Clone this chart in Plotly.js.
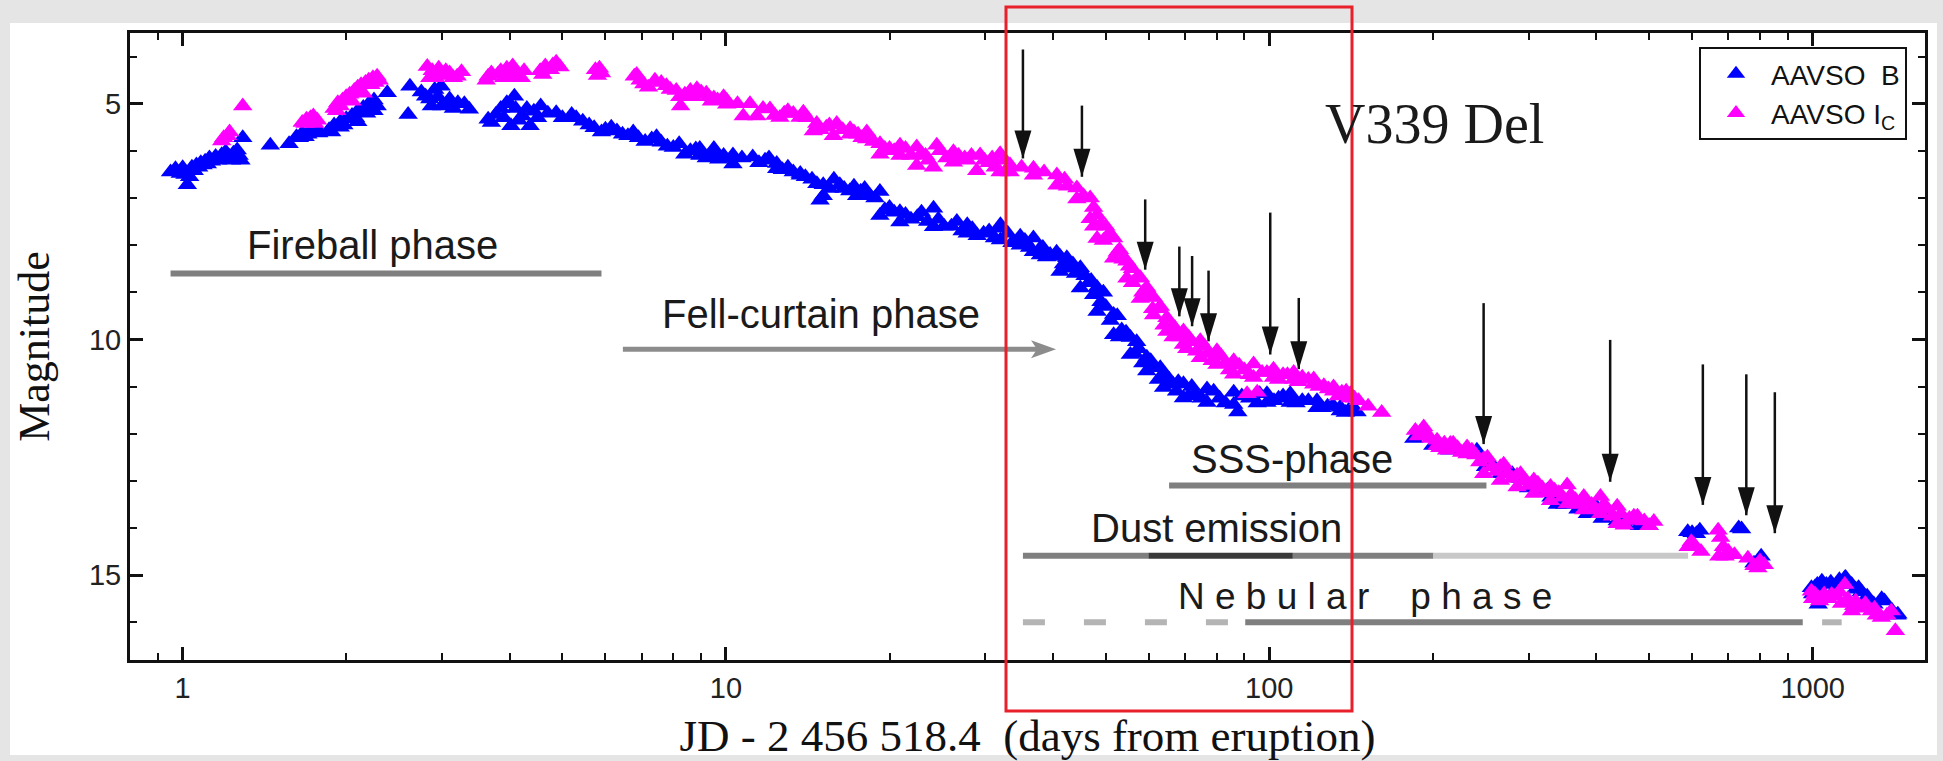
<!DOCTYPE html>
<html>
<head>
<meta charset="utf-8">
<script src="https://cdn.plot.ly/plotly-3.0.1.min.js"></script>
<style>
html,body{margin:0;padding:0;background:#e5e5e5;}
#chart{width:1943px;height:761px;}
</style>
</head>
<body>
<div id="chart"></div>
<script>
// ---------------- DATA ----------------
// AAVSO B  (days from eruption, magnitude)
const bEarlyDays = [0.95,0.97,0.99,1.00,1.02,1.04,1.06,1.08,1.10,1.12,1.15,1.18,1.20,1.22,1.24,1.26,1.28,1.29,1.45,1.57,1.62,1.66,1.70,1.74,1.78,
  1.86,1.90,1.95,2.00,2.05,2.10,2.15,2.20,2.25,1.95,2.10,2.25,
  2.38,2.60,2.62,
  2.80,2.91,2.99,2.87,3.06,3.21,3.37,
  3.65,3.77,3.95,4.08,4.02,4.22,4.43,4.56,4.36,4.87,5.20,5.45,
  5.72,6.00,6.30,6.60,6.90,7.30,7.60,8.00,8.40,8.80,9.30,9.70];
const bEarlyMag = [6.45,6.38,6.48,6.36,6.72,6.35,6.30,6.25,6.22,6.15,6.12,6.08,6.02,6.12,6.05,5.98,6.20,5.72,5.88,5.85,5.70,5.62,5.65,5.58,5.62,
  5.55,5.45,5.38,5.32,5.25,5.15,5.08,5.00,4.92,5.50,5.38,5.15,
  4.77,5.23,4.63,
  4.84,4.70,4.63,5.05,5.02,4.98,5.12,
  5.33,5.23,4.98,4.84,5.47,5.26,5.16,5.05,5.47,5.19,5.23,5.37,
  5.51,5.54,5.58,5.68,5.72,5.75,5.82,5.93,6.07,5.96,6.10,6.18];
const bEarlyDays2 = [1.01,1.03,1.05,1.07,1.09,1.11,1.13,1.16,1.19,1.23,1.27, 1.64,1.68,1.72,1.76, 1.88,1.98,2.08,2.18,2.28,
  2.75,2.85,2.95,3.00,3.10,3.15,3.30, 3.70,3.85,3.90,4.00,4.10,4.15,4.30,4.50,4.70,
  5.00,5.30,5.60,5.90,6.15,6.45,6.75,7.10,7.45,7.80,8.20,8.60,9.00,9.50,9.90];
const bEarlyMag2 = [6.50,6.55,6.42,6.35,6.30,6.28,6.22,6.20,6.15,6.20,6.10, 5.72,5.70,5.55,5.50, 5.60,5.45,5.30,5.20,5.05,
  4.75,4.90,4.85,5.05,4.90,5.10,5.00, 5.40,5.10,5.30,5.00,5.10,5.35,5.10,5.30,5.20,
  5.30,5.30,5.45,5.60,5.50,5.65,5.60,5.80,5.70,5.90,5.85,6.00,6.05,5.95,6.15];

const bPlateauDays = [8.95,10.3,11.2,12.4,13.7,15.1,16.2,17.7,19.2,20.9,24.1,27.8,32.0,36.8,42.4,
  8.95,10.3,12.4,13.7,15.1,17.7,19.2,20.9,24.1,27.8,32.0,36.8,42.4,
  9.6,11.8,13.0,14.4,16.9,18.4,20.0,22.5,26.0,29.8,34.3,39.5,14.9];
const bPlateauMag = [5.95,6.09,6.13,6.27,6.48,6.72,6.72,6.86,6.86,7.29,7.22,7.57,7.64,7.85,8.27,
  6.10,6.28,6.38,6.52,6.95,6.87,7.37,7.51,7.61,7.75,7.89,8.14,8.49,
  6.05,6.20,6.35,6.60,6.85,6.95,7.20,7.40,7.60,7.75,7.95,8.20,7.05];
const bPlateauDays2 = [9.2,9.9,10.7,11.5,12.0,12.7,13.3,14.0,14.7,15.5,15.8,16.5,17.2,17.4,18.0,18.8,19.6,20.4,21.4,21.9,
  22.9,23.5,24.6,25.2,26.6,27.2,28.4,29.0,30.5,31.2,33.0,33.6,35.5,36.2,38.3,38.9,40.6,41.8,43.5,44.0,45.8,47.0];
const bPlateauMag2 = [6.15,6.10,6.15,6.25,6.15,6.40,6.45,6.55,6.70,6.80,6.60,6.80,6.75,6.95,6.80,7.00,7.25,7.30,7.35,7.45,
  7.30,7.50,7.45,7.60,7.50,7.70,7.65,7.80,7.70,7.85,7.75,7.95,7.90,8.05,8.05,8.25,8.15,8.40,8.40,8.60,8.65,8.75];

const bDeclineDays = [32.0,34.8,37.9,41.2,44.9,48.2,51.7,55.5,59.5,63.9,69.5,76.8,86.0,99.0,109.3,122.4,135.1,145,
  34.8,37.9,41.2,44.9,48.2,51.7,55.5,59.5,63.9,69.5,76.8,86.0,99.0,109.3,122.4,135.1,
  46.5,50,53.5,57.5,61.5,66.5,73,81,92,104,115,128,140,87.5];
const bDeclineMag = [7.57,7.81,8.06,8.24,8.48,8.90,9.47,9.96,10.38,10.73,10.94,11.05,11.12,11.15,11.15,11.30,11.44,11.54,
  8.00,8.21,8.56,8.91,9.41,9.90,10.32,10.67,11.02,11.24,11.34,11.38,11.34,11.34,11.45,11.52,
  8.80,9.30,9.80,10.20,10.60,10.95,11.15,11.25,11.25,11.25,11.30,11.42,11.50,11.54];
const bDeclineDays2 = [47.5,49.0,49.5,51.0,52.5,53.0,54.5,56.5,57.0,58.5,60.5,62.5,63.0,65.5,67.5,68.0,71.0,72.0,75.0,79.0,
  83.0,89.0,95.0,96.0,102.0,106.0,112.0,118.0,125.0,131.0,138.0,143.0];
const bDeclineMag2 = [9.05,9.20,9.00,9.60,9.50,9.95,9.85,10.30,10.05,10.50,10.45,10.85,10.60,10.85,11.10,10.90,11.20,11.00,11.25,11.10,
  11.35,11.20,11.35,11.15,11.30,11.20,11.35,11.30,11.45,11.40,11.55,11.50];

const bLateDays = [184.5,192,205,210,220,230,241,255,267,280,290,310,325,339,360,385,400,420,437,460,480,
  589,600,611,620,731,740,780,804,800,
  995,1000,1010,1024,1040,1060,1100,1146,1150,1180,1215,1230,1290,1297,1340,1356,1400,1430,1435];
const bLateMag = [12.10,12.05,12.20,12.30,12.30,12.35,12.35,12.60,12.85,12.85,12.95,13.10,13.20,13.50,13.45,13.70,13.55,13.70,13.85,13.85,13.95,
  14.08,14.10,14.12,14.05,14.00,14.02,14.75,14.60,14.70,
  15.27,15.40,15.25,15.62,15.13,15.20,15.30,15.06,15.05,15.20,15.27,15.35,15.60,15.62,15.50,15.55,15.75,15.85,15.83];
const bLateDays2 = [200,215,250,300,330,350,370,410,450,500, 1020,1080,1120,1200,1260];
const bLateMag2  = [12.25,12.35,12.70,13.15,13.35,13.50,13.60,13.80,13.90,13.95, 15.20,15.15,15.10,15.30,15.45];

// AAVSO Ic
const iEarlyDays = [1.18,1.19,1.21,1.22,1.29,1.66,1.69,1.72,1.74,1.77,
  1.90,1.93,1.97,2.00,2.03,2.07,2.10,2.13,2.17,2.20,2.24,2.28,2.30,1.95,2.05,2.15,
  2.82,2.88,2.96,2.92,3.02,3.10,3.26,3.20,
  3.62,3.65,3.80,3.85,3.95,4.05,4.10,4.15,4.20,4.00,
  4.55,4.65,4.80,4.87,4.95,
  5.75,5.85,5.90,
  6.78,6.85,7.06,7.60,7.77,8.10,8.22,8.25,8.60,8.84,9.20,9.65,9.40];
const iEarlyMag = [5.79,5.72,5.68,5.60,5.05,5.40,5.33,5.30,5.26,5.35,
  5.10,4.98,4.92,4.85,4.80,4.72,4.65,4.60,4.55,4.50,4.45,4.42,4.50,5.05,4.95,4.78,
  4.21,4.30,4.25,4.45,4.40,4.35,4.32,4.42,
  4.50,4.42,4.38,4.30,4.25,4.20,4.30,4.40,4.45,4.35,
  4.30,4.20,4.18,4.12,4.22,
  4.28,4.25,4.35,
  4.42,4.38,4.58,4.55,4.62,4.72,4.85,5.05,4.72,4.68,4.78,4.92,4.95];
const iEarlyDays2 = [1.68,1.75,1.92,2.02,2.12,2.22,2.26, 2.85,2.98,3.05,3.15, 3.70,3.90,4.05,4.25,4.60,4.75, 5.80,
  6.95,7.20,7.40,7.90,8.40,8.70,9.00,9.90];
const iEarlyMag2 = [5.42,5.42,5.15,4.92,4.75,4.60,4.55, 4.45,4.38,4.30,4.45, 4.35,4.45,4.45,4.30,4.38,4.28, 4.40,
  4.50,4.65,4.50,4.70,4.80,4.85,4.75,4.85];

const iPlateauDays = [8.95,10.03,11.07,12.05,13.3,13.88,14.69,15.99,16.92,18.16,19.21,20.91,22.44,24.43,26.22,29.36,31.96,
  10.03,10.76,11.39,12.57,13.69,14.48,15.76,16.92,18.16,19.21,20.91,22.44,24.09,26.22,28.94,31.96,
  9.5,12.8,15.3,17.5,20.0,23.3,27.5,30.5];
const iPlateauMag = [4.79,4.93,5.00,5.11,5.21,5.18,5.42,5.42,5.53,5.60,5.85,5.88,5.92,5.88,6.02,6.09,6.06,
  5.01,5.26,5.26,5.29,5.29,5.58,5.68,5.65,5.75,6.07,6.10,6.31,6.35,6.24,6.42,6.45,
  4.88,5.20,5.50,5.65,5.95,6.10,6.15,6.25];
const iPlateauDays2 = [9.3,10.5,11.7,12.3,13.0,14.1,14.9,15.5,16.4,17.2,17.8,18.7,19.6,20.4,21.4,21.9,22.9,23.6,24.8,25.5,
  26.8,27.8,28.3,29.9,30.9,31.3,32.5,35.0,38.5,42.0];
const iPlateauMag2 = [4.85,5.00,5.10,5.25,5.15,5.30,5.55,5.45,5.55,5.60,5.72,5.80,5.95,6.00,5.95,6.10,6.05,6.20,6.00,6.15,
  6.10,6.20,6.10,6.20,6.15,6.35,6.20,6.35,6.45,6.60];

const iDeclineDays = [33.34,36.81,40.64,44.24,46.81,48.2,51.7,54.7,57.88,61.24,64.8,69.5,74.64,80.1,86.0,93.56,101.8,110.9,120.7,131.3,141.0,
  33.34,36.81,40.64,44.24,46.81,48.2,51.7,54.7,57.88,61.24,64.8,69.5,74.64,80.1,86.0,93.56,101.8,110.9,120.7,131.3,141.0,
  42.5,50,53,56,59.5,63,67,72,77,83,90,97,106,115,126,136,
  91,95,146,152,161];
const iDeclineMag = [6.30,6.37,6.51,6.79,7.00,7.36,7.85,8.34,8.69,9.11,9.54,9.82,10.03,10.24,10.45,10.52,10.63,10.70,10.84,11.01,11.15,
  6.45,6.52,6.73,7.02,7.44,7.86,8.28,8.70,9.13,9.48,9.83,10.11,10.39,10.53,10.74,10.81,10.81,10.85,10.95,11.10,11.24,
  6.75,7.60,8.10,8.50,8.90,9.30,9.75,10.05,10.30,10.50,10.65,10.70,10.75,10.80,10.98,11.12,
  11.15,11.12,11.30,11.42,11.55];
const iDeclineDays2 = [45.5,47.5,47.5,49.0,49.5,50.8,52.5,53.8,55.3,56.0,57.0,58.5,60.3,61.0,62.5,64.0,65.8,66.5,68.5,70.5,
  71.0,73.5,76.0,78.5,81.5,84.5,88.0,92.0,99.0,104.0,108.0,113.0,118.0,123.5,128.5,134.0,138.5,143.5];
const iDeclineMag2 = [6.95,7.20,7.60,7.55,7.90,7.75,8.15,8.30,8.45,8.80,8.70,9.00,9.10,9.35,9.35,9.70,9.75,9.95,9.95,10.20,
  9.95,10.25,10.15,10.45,10.35,10.65,10.55,10.75,10.70,10.85,10.75,10.90,10.85,11.00,11.05,11.20,11.10,11.25];

const iLateDays = [185.7,192.4,203.6,215.4,231.2,248.1,266.3,285.8,306.8,329.3,353.3,379.2,406.9,436.8,468.8,510.2,
  203.6,215.4,231.2,248.1,266.3,285.8,306.8,329.3,353.3,379.2,406.9,436.8,468.8,
  195,210,222,240,257,275,296,318,341,366,392,420,450,490,
  590,598,606,623,670,677,685,672,690,700,718,760,780,793,800,815,
  995,1000,1010,1024,1050,1084,1120,1146,1160,1180,1200,1215,1250,1283,1338,1370,1396,1420];
const iLateMag = [11.93,11.86,12.14,12.21,12.28,12.53,12.70,12.88,12.98,13.12,13.09,13.33,13.33,13.54,13.75,13.86,
  12.25,12.29,12.43,12.85,12.99,13.13,13.27,13.42,13.49,13.62,13.70,13.91,13.84,
  12.00,12.20,12.30,12.45,12.70,12.85,13.00,13.15,13.25,13.40,13.50,13.60,13.94,13.85,
  14.40,14.29,14.36,14.50,14.05,14.20,14.40,14.60,14.60,14.50,14.57,14.64,14.80,14.85,14.70,14.78,
  15.34,15.50,15.40,15.48,15.40,15.41,15.35,15.20,15.50,15.76,15.55,15.69,15.60,15.76,15.90,15.85,15.76,16.18];
const iLateDays2 = [188,198,206,212,218,226,236,244,252,262,270,280,290,301,312,324,335,347,359,372,385,399,413,428,444,460,476,500,
  1030,1070,1100,1130,1190,1230,1300,1310];
const iLateMag2 = [12.05,12.10,12.30,12.35,12.20,12.40,12.35,12.60,12.50,12.80,12.65,12.95,12.85,13.10,13.05,13.25,13.20,13.35,13.30,13.50,13.45,13.60,13.50,13.75,13.70,13.80,13.75,13.95,
  15.55,15.50,15.45,15.60,15.65,15.70,15.70,15.85];

// Spectra epochs (black arrows): day, arrow top magnitude, arrow tip magnitude
const arrowDays = [35.2,45.2,59.1,68.3,72.1,77.3,100.4,113.3,248,424,628,755,852];
const arrowTop  = [3.85,5.04,7.03,8.03,8.23,8.54,7.31,9.12,9.23,10.01,10.53,10.74,11.12];
const arrowTip  = [6.16,6.55,8.52,9.51,9.72,10.04,10.32,10.63,12.22,13.02,13.51,13.73,14.11];

// Phase bars: start day, end day, magnitude level
const phaseLabels   = ['Fireball phase','SSS-phase','Dust emission','Dust emission','Dust emission','Dust emission','Nebular phase','Nebular phase','Nebular phase'];
const phaseStart    = [0.95, 65.4, 35.2, 59.9, 110.5, 200.5, 35.2, 90.3, 1041];
const phaseEnd      = [5.9, 251, 59.9, 110.5, 200.5, 590, 84, 959, 1131];
const phaseMag      = [8.6, 13.1, 14.59, 14.59, 14.59, 14.59, 16.0, 16.0, 16.0];
// Fell-curtain arrow: from day, to day, magnitude level
const fellArrowDays = [6.46, 40.5];
const fellArrowMag  = 10.21;

// Axis ticks
const xTickVals  = [1, 10, 100, 1000];
const xTickText  = ['1', '10', '100', '1000'];
const xMinorVals = [0.9, 2,3,4,5,6,7,8,9, 20,30,40,50,60,70,80,90, 200,300,400,500,600,700,800,900];
const yTickVals  = [5, 10, 15];
const yTickText  = ['5', '10', '15'];
const yMinorVals = [4,6,7,8,9,11,12,13,14,16];

// ---------------- STYLES / LAYOUT ----------------
const W = 1943, H = 761;
const M = {l:130, r:18, t:33, b:101};
const PW = W - M.l - M.r, PH = H - M.t - M.b;
const px2x = px => (px - M.l) / PW;
const px2y = py => (H - M.b - py) / PH;
const X_RANGE = [Math.log10(0.8), Math.log10(1610)];
const PX_PER_DEC = PW / (X_RANGE[1] - X_RANGE[0]);

const SANS = 'Liberation Sans, Arial, Helvetica, sans-serif';
const SERIF = 'Liberation Serif, Times New Roman, serif';
const INK = '#111111';

const phaseColors = ['#7f7f7f','#7f7f7f','#7f7f7f','#3a3a3a','#7f7f7f','#c8c8c8','#b4b4b4','#7f7f7f','#b4b4b4'];
const phaseDash   = ['solid','solid','solid','solid','solid','solid','22px,39px','solid','solid'];

const bDays = [].concat(bEarlyDays, bEarlyDays2, bPlateauDays, bPlateauDays2, bDeclineDays, bDeclineDays2, bLateDays, bLateDays2);
const bMag  = [].concat(bEarlyMag,  bEarlyMag2,  bPlateauMag,  bPlateauMag2,  bDeclineMag,  bDeclineMag2,  bLateMag,  bLateMag2);
const iDays = [].concat(iEarlyDays, iEarlyDays2, iPlateauDays, iPlateauDays2, iDeclineDays, iDeclineDays2, iLateDays, iLateDays2);
const iMag  = [].concat(iEarlyMag,  iEarlyMag2,  iPlateauMag,  iPlateauMag2,  iDeclineMag,  iDeclineMag2,  iLateMag,  iLateMag2);

const traces = [
  {x: bDays, y: bMag, type: 'scatter', mode: 'markers', name: 'AAVSO\u00a0 B',
   marker: {symbol: 'triangle-up', size: 17, color: '#0000ff', line: {width: 0}}},
  {x: iDays, y: iMag, type: 'scatter', mode: 'markers', name: 'AAVSO I<sub>C</sub>',
   marker: {symbol: 'triangle-up', size: 17, color: '#ff00ff', line: {width: 0}}}
];

const shapes = [];
// white panel on grey page
shapes.push({type:'rect', xref:'paper', yref:'paper', layer:'below',
  x0: px2x(10), x1: px2x(1937), y0: px2y(755), y1: px2y(23),
  fillcolor:'#ffffff', line:{width:0}});
// phase bars
phaseStart.forEach((s, i) => {
  shapes.push({type:'line', xref:'x', yref:'y', layer:'below',
    x0: s, x1: phaseEnd[i], y0: phaseMag[i], y1: phaseMag[i],
    line:{color: phaseColors[i], width: 6, dash: phaseDash[i]}});
});
// fell-curtain arrow (grey)
const fellShaftEnd = Math.pow(10, Math.log10(fellArrowDays[1]) - 18 / PX_PER_DEC);
shapes.push({type:'line', xref:'x', yref:'y', x0: fellArrowDays[0], x1: fellShaftEnd,
  y0: fellArrowMag, y1: fellArrowMag, line:{color:'#8c8c8c', width:5}});
shapes.push({type:'path', xref:'x', yref:'y', xsizemode:'pixel', ysizemode:'pixel',
  xanchor: fellArrowDays[1], yanchor: fellArrowMag,
  path:'M0,0 L-25,9 L-19,0 L-25,-9 Z', fillcolor:'#8c8c8c', line:{width:0}});
// black arrows (spectra)
arrowDays.forEach((d, i) => {
  shapes.push({type:'line', xref:'x', yref:'y', x0:d, x1:d, y0: arrowTop[i], y1: arrowTip[i],
    line:{color: INK, width: 2.5}});
  shapes.push({type:'path', xref:'x', yref:'y', xsizemode:'pixel', ysizemode:'pixel',
    xanchor: d, yanchor: arrowTip[i], path:'M-8.5,28 L8.5,28 L0,0 Z',
    fillcolor: INK, line:{width:0}});
});
// red highlight box
shapes.push({type:'rect', xref:'paper', yref:'paper',
  x0: px2x(1006), x1: px2x(1352), y0: px2y(711), y1: px2y(7),
  line:{color:'#e8202a', width:3}, fillcolor:'rgba(0,0,0,0)'});

const lab = (t, mag, text, size, family) => ({
  xref:'x', yref:'y', x: Math.log10(t), y: mag, text: text, showarrow: false,
  xanchor:'center', yanchor:'middle', font:{family: family || SANS, size: size, color:'#1a1a1a'}
});
const annotations = [
  lab(2.24, 8.0, 'Fireball phase', 40),
  lab(14.96, 9.47, 'Fell-curtain phase', 40),
  lab(110.3, 12.53, 'SSS-phase', 40),
  lab(80, 13.99, 'Dust emission', 40),
  lab(150, 15.46, 'N e b u l a r \u00a0\u00a0\u00a0p h a s e', 37),
  lab(201, 5.44, 'V339 Del', 56, SERIF)
];

const axisCommon = {
  ticks:'inside', ticklen:13, tickwidth:2.5, tickcolor: INK,
  showline:true, linecolor: INK, linewidth:3, mirror:'ticks',
  showgrid:false, zeroline:false,
  tickfont:{family: SANS, size: 29, color:'#222'}
};

const layout = {
  width: W, height: H,
  margin: M,
  paper_bgcolor:'#e5e5e5', plot_bgcolor:'#ffffff',
  showlegend: true,
  legend: {x: px2x(1907), xanchor:'right', y: px2y(47), yanchor:'top',
    bgcolor:'#ffffff', bordercolor: INK, borderwidth: 2,
    font:{family: SANS, size: 28, color: INK}, itemwidth: 60},
  xaxis: Object.assign({}, axisCommon, {
    type:'log', range: X_RANGE, tickvals: xTickVals, ticktext: xTickText,
    minor:{tickvals: xMinorVals, ticks:'inside', ticklen:7, tickwidth:2, tickcolor: INK, showgrid:false},
    title:{text:'JD - 2 456 518.4\u00a0 (days from eruption)', font:{family: SERIF, size: 45, color: INK}, standoff: 20}
  }),
  yaxis: Object.assign({}, axisCommon, {
    range:[16.8, 3.5], tickvals: yTickVals, ticktext: yTickText,
    minor:{tickvals: yMinorVals, ticks:'inside', ticklen:7, tickwidth:2, tickcolor: INK, showgrid:false},
    title:{text:'Magnitude', font:{family: SERIF, size: 44, color: INK}, standoff: 26}
  }),
  shapes: shapes,
  annotations: annotations
};

Plotly.newPlot('chart', traces, layout, {displayModeBar:false, responsive:false});
</script>
</body>
</html>
